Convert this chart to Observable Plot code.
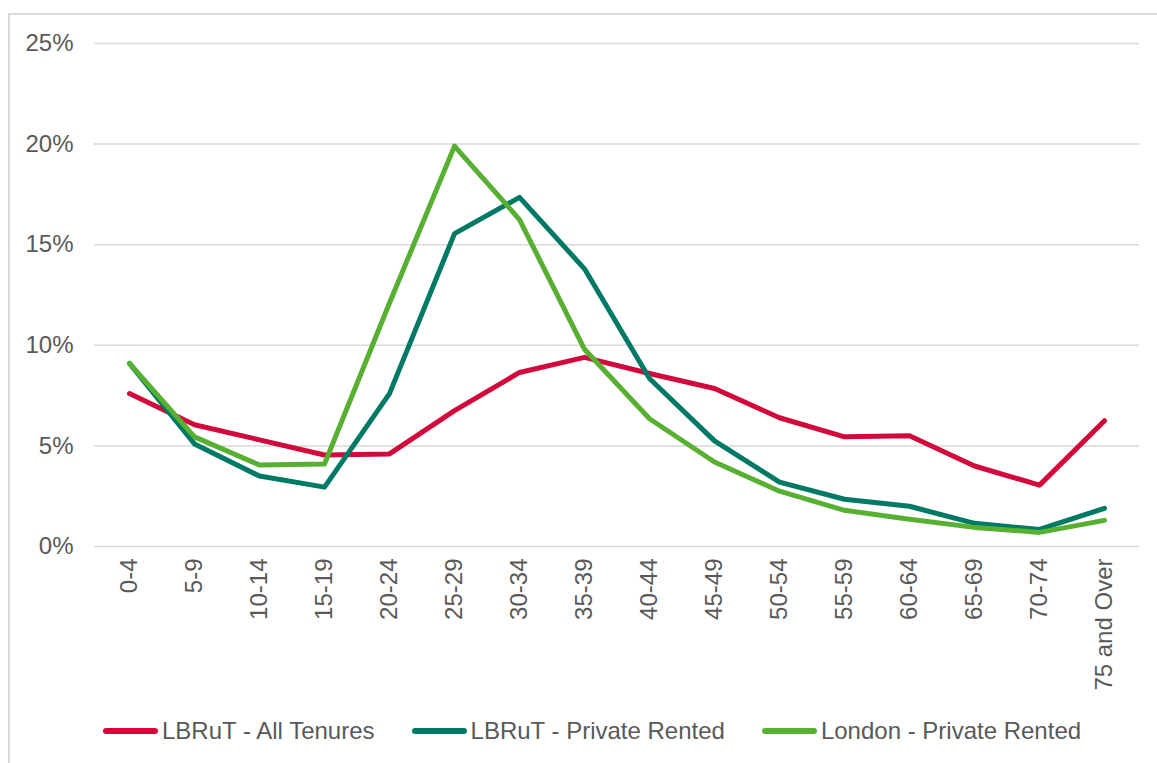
<!DOCTYPE html>
<html>
<head>
<meta charset="utf-8">
<script src="https://cdn.jsdelivr.net/npm/d3@7"></script>
<script src="https://cdn.jsdelivr.net/npm/@observablehq/plot@0.6"></script>
<style>
  html, body { margin: 0; padding: 0; background: #fff; }
  body { width: 1157px; height: 763px; position: relative; overflow: hidden;
         font-family: "Liberation Sans", Arial, sans-serif; color: #595959; }
  #frame { position: absolute; left: 8px; top: 13px; width: 1170px; height: 780px;
           border: 2px solid #d9d9d9; box-sizing: border-box; }
  #chart { position: absolute; left: 0; top: 0; }
  #legend { position: absolute; left: 103px; top: 716px; display: flex; gap: 37px;
            font-size: 24px; line-height: 30px; }
  .item { display: flex; align-items: center; }
  .swatch { width: 55px; height: 6px; border-radius: 3px; margin-right: 4px; }
</style>
</head>
<body>
<div id="frame"></div>
<div id="chart"></div>
<div id="legend"></div>
<script>
// Age bands
const ages = ["0-4", "5-9", "10-14", "15-19", "20-24", "25-29", "30-34", "35-39",
              "40-44", "45-49", "50-54", "55-59", "60-64", "65-69", "70-74", "75 and Over"];

// Share of residents in each age band (%)
const lbrutAllTenures = [7.6, 6.05, 5.3, 4.55, 4.6, 6.75, 8.65, 9.4, 8.6, 7.85, 6.4, 5.45, 5.5, 4.0, 3.05, 6.25];
const lbrutPrivateRented = [9.1, 5.1, 3.5, 2.95, 7.6, 15.55, 17.35, 13.8, 8.35, 5.25, 3.2, 2.35, 2.0, 1.15, 0.85, 1.9];
const londonPrivateRented = [9.1, 5.45, 4.05, 4.1, 12.1, 19.9, 16.25, 9.8, 6.35, 4.2, 2.75, 1.8, 1.35, 0.95, 0.7, 1.3];

const seriesNames = ["LBRuT - All Tenures", "LBRuT - Private Rented", "London - Private Rented"];
const seriesColors = ["#d20a3c", "#007a64", "#58b033"];
const yTicks = [0, 5, 10, 15, 20, 25];

const seriesValues = [lbrutAllTenures, lbrutPrivateRented, londonPrivateRented];
const rows = seriesValues.flatMap((vals, s) =>
  vals.map((v, i) => ({ age: ages[i], value: v, series: seriesNames[s] })));

const chart = Plot.plot({
  width: 1157,
  height: 710,
  marginLeft: 94,
  marginRight: 18,
  marginTop: 43,
  marginBottom: 164,
  style: { fontFamily: "'Liberation Sans', Arial, sans-serif", fontSize: "24px", color: "#595959", background: "transparent" },
  x: { type: "point", domain: ages, padding: 0.5, label: null },
  y: { domain: [0, 25], label: null },
  color: { domain: seriesNames, range: seriesColors },
  marks: [
    Plot.ruleY(yTicks, { stroke: "#d9d9d9", strokeWidth: 1.5 }),
    Plot.axisY({ ticks: yTicks, tickFormat: d => d + "%", tickSize: 0, tickPadding: 21,
                 fill: "#595959", fontSize: 24, label: null }),
    Plot.axisX({ tickRotate: -90, tickSize: 0, tickPadding: 12, fill: "#595959",
                 fontSize: 24, label: null }),
    Plot.line(rows, { x: "age", y: "value", z: "series", stroke: "series",
                      strokeWidth: 5, strokeLinecap: "round", strokeLinejoin: "round" })
  ]
});
document.getElementById("chart").appendChild(chart);

// Legend below the plot
const legend = document.getElementById("legend");
seriesNames.forEach((name, i) => {
  const item = document.createElement("div");
  item.className = "item";
  const sw = document.createElement("span");
  sw.className = "swatch";
  sw.style.background = seriesColors[i];
  const label = document.createElement("span");
  label.textContent = name;
  item.appendChild(sw);
  item.appendChild(label);
  legend.appendChild(item);
});
</script>
</body>
</html>
